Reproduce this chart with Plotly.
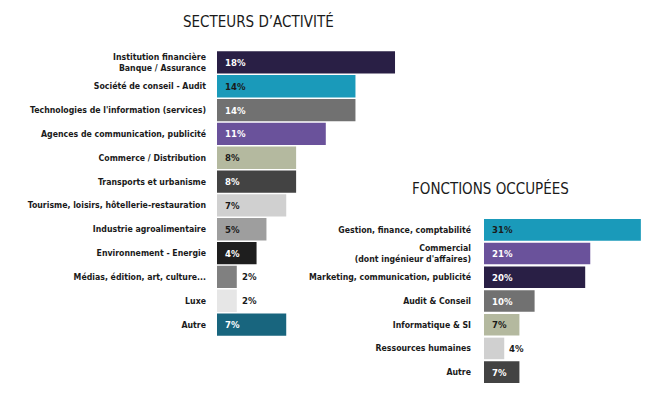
import plotly.graph_objects as go

# Browser body has an 8px default margin: draw on a figure offset by that amount
OFF = 8
W, H = 650 - OFF, 399 - OFF - 8

# ---- Data ----
sect_labels = [
    "Institution financière<br>Banque / Assurance",
    "Société de conseil - Audit",
    "Technologies de l'information (services)",
    "Agences de communication, publicité",
    "Commerce / Distribution",
    "Transports et urbanisme",
    "Tourisme, loisirs, hôtellerie-restauration",
    "Industrie agroalimentaire",
    "Environnement - Energie",
    "Médias, édition, art, culture...",
    "Luxe",
    "Autre",
]
sect_values = [18, 14, 14, 11, 8, 8, 7, 5, 4, 2, 2, 7]
sect_colors = ["#291f45", "#1a9aba", "#717171", "#6a529b", "#b4b99f", "#434343",
               "#d0d0d0", "#9e9e9e", "#1e1e1e", "#808080", "#e6e6e6", "#18657e"]
sect_textcol = ["white", "#1a1a1a", "white", "white", "#1a1a1a", "white",
                "#1a1a1a", "#1a1a1a", "white", "#1a1a1a", "#1a1a1a", "white"]

fonc_labels = [
    "Gestion, finance, comptabilité",
    "Commercial<br>(dont ingénieur d'affaires)",
    "Marketing, communication, publicité",
    "Audit & Conseil",
    "Informatique & SI",
    "Ressources humaines",
    "Autre",
]
fonc_values = [31, 21, 20, 10, 7, 4, 7]
fonc_colors = ["#1a9aba", "#6a529b", "#291f45", "#717171", "#b4b99f", "#d0d0d0", "#434343"]
fonc_textcol = ["#1a1a1a", "white", "white", "white", "#1a1a1a", "#1a1a1a", "white"]

titles = ["SECTEURS D’ACTIVITÉ", "FONCTIONS OCCUPÉES"]

FONT = "DejaVu Sans Condensed, Liberation Sans Narrow, Roboto, sans-serif"
LABEL_SIZE = 8.7
VALUE_SIZE = 9.5
TITLE_SIZE = 15

def px_x(p):
    return (p - OFF) / W

def px_y(p):
    return 1 - (p - OFF) / H

fig = go.Figure()

fig.add_trace(go.Bar(
    x=sect_values, y=sect_labels, orientation="h",
    marker=dict(color=sect_colors, line=dict(width=0)),
    width=0.94, xaxis="x", yaxis="y", hoverinfo="skip",
))
fig.add_trace(go.Bar(
    x=fonc_values, y=fonc_labels, orientation="h",
    marker=dict(color=fonc_colors, line=dict(width=0)),
    width=0.91, xaxis="x2", yaxis="y2", hoverinfo="skip",
))

# scales (pixel positions in the 650x399 window)
L_x0, L_pxper = 217, 9.89
R_x0, R_pxper = 484, 5.06
L_x1 = 420
R_x1 = 648

annotations = []
def value_labels(labels, values, tcols, xref, yref, pxper):
    for lab, v, c in zip(labels, values, tcols):
        inside = v * pxper > 28
        annotations.append(dict(
            x=0 if inside else v, y=lab, xref=xref, yref=yref,
            text=f"{v}%", showarrow=False, xanchor="left",
            xshift=6 if inside else 3,
            font=dict(family=FONT, size=VALUE_SIZE, color=c if inside else "#1a1a1a", weight="bold"),
        ))

value_labels(sect_labels, sect_values, sect_textcol, "x", "y", L_pxper)
value_labels(fonc_labels, fonc_values, fonc_textcol, "x2", "y2", R_pxper)

annotations.append(dict(x=px_x(258), y=px_y(21), xref="paper", yref="paper",
                        text=titles[0], showarrow=False, xanchor="center", yanchor="middle",
                        font=dict(family=FONT, size=TITLE_SIZE, color="#1a1a1a")))
annotations.append(dict(x=px_x(490.5), y=px_y(188), xref="paper", yref="paper",
                        text=titles[1], showarrow=False, xanchor="center", yanchor="middle",
                        font=dict(family=FONT, size=TITLE_SIZE, color="#1a1a1a")))

axis_common = dict(showgrid=False, zeroline=False, showline=False, showticklabels=False, fixedrange=True)

fig.update_layout(
    width=W, height=H,
    margin=dict(l=0, r=0, t=0, b=0),
    paper_bgcolor="white", plot_bgcolor="white",
    showlegend=False,
    font=dict(family=FONT, color="#1a1a1a"),
    xaxis=dict(domain=[px_x(L_x0), px_x(L_x1)], range=[0, (L_x1 - L_x0) / L_pxper], anchor="y", **axis_common),
    yaxis=dict(domain=[px_y(336.5), px_y(50.5)], autorange="reversed", anchor="x",
               showgrid=False, zeroline=False, showline=False, ticks="",
               ticklabelstandoff=10,
               tickfont=dict(family=FONT, size=LABEL_SIZE, color="#1a1a1a", weight="bold")),
    xaxis2=dict(domain=[px_x(R_x0), px_x(R_x1)], range=[0, (R_x1 - R_x0) / R_pxper], anchor="y2", **axis_common),
    yaxis2=dict(domain=[px_y(384), px_y(218)], autorange="reversed", anchor="x2",
                showgrid=False, zeroline=False, showline=False, ticks="",
                ticklabelstandoff=12,
                tickfont=dict(family=FONT, size=LABEL_SIZE, color="#1a1a1a", weight="bold")),
    annotations=annotations,
)

fig.write_html("out.html")
